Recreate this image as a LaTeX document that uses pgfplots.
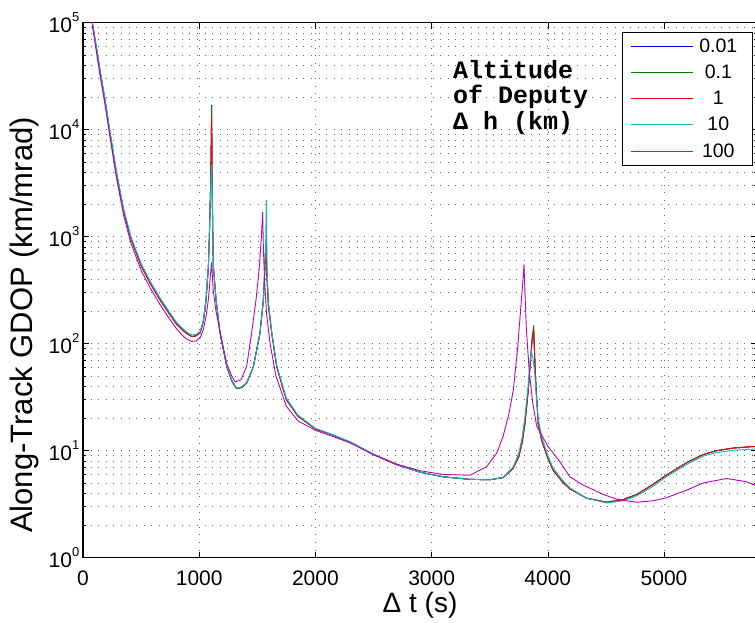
\documentclass[border=0pt]{standalone}
\usepackage{fontspec}
\setmainfont{Liberation Sans}
\setmonofont{Liberation Mono}
\usepackage{pgfplots}
\pgfplotsset{compat=1.18}
\definecolor{mb}{rgb}{0,0,1}
\definecolor{mg}{rgb}{0,0.5,0}
\definecolor{mr}{rgb}{1,0,0}
\definecolor{mc}{rgb}{0,0.75,0.75}
\definecolor{mm}{rgb}{0.75,0,0.75}
\newcommand{\tp}[1]{10\raisebox{10.5pt}{\fontsize{13}{13}\selectfont #1}}
\begin{document}
\begin{tikzpicture}
\begin{axis}[
  at={(0pt,0pt)}, anchor=south west, scale only axis,
  width=674pt, height=535pt,
  xmin=0, xmax=5800, ymode=log, ymin=1, ymax=1e5,
  xtick={0,1000,2000,3000,4000,5000},
  ytick={1,10,100,1000,10000,100000},
  yticklabels={\tp{0},\tp{1},\tp{2},\tp{3},\tp{4},\tp{5}},
  scaled x ticks=false,
  /pgf/number format/1000 sep={},
  /pgf/number format/assume math mode=true,
  tick align=inside, major tick length=6pt, minor tick length=3.5pt,
  tick style={black, line width=0.6pt},
  grid=both,
  major grid style={black!60, line width=0.6pt, dash pattern=on 0.6pt off 7pt},
  minor grid style={black!60, line width=0.6pt, dash pattern=on 0.6pt off 7pt},
  axis line style={black, line width=1.2pt},
  ticklabel style={font=\fontsize{21}{21}\selectfont},
  xticklabel style={anchor=base, yshift=-28pt},
  yticklabel style={inner sep=0pt, xshift=-3.5pt},
  xlabel={Δ t (s)},
  xlabel style={at={(rel axis cs:0.5,0)}, anchor=base, yshift=-54.5pt, inner sep=0pt, font=\fontsize{28}{28}\selectfont},
  ylabel={Along-Track GDOP (km/mrad)},
  ylabel style={at={(rel axis cs:0,0.435)}, anchor=base, yshift=50pt, inner sep=0pt, font=\fontsize{31}{31}\selectfont},
  legend style={at={(rel axis cs:0.9926,0.9826)}, anchor=north east,
    font=\fontsize{19.5}{20}\selectfont, row sep=7pt, inner xsep=9pt, inner ysep=5pt},
  legend cell align=center,
  legend image code/.code={\draw[#1, line width=0.9pt] (0pt,0pt) -- (62pt,0pt);},
  every axis plot/.append style={line width=0.9pt},
]
\addplot[color=mb] table {
80 100000
110 63000
146 35500
190 18600
232 9330
290 3800
350 1740
413 955
460 700
504 525
580 365
663 257
730 200
800 155
860 133
900 123
935 117
970 118
1007 126
1035 160
1059 257
1079 525
1088 1070
1098 3000
1104 8000
1107 17000
1110 4500
1113 2200
1117 1100
1122 525
1145 257
1179 126
1237 61
1280 45
1322 38
1365 39
1409 43
1466 61
1523 126
1552 257
1565 500
1572 800
1576 950
1582 450
1595 230
1624 126
1667 61
1750 30
1850 21
2000 16
2150 14
2300 12
2500 9.2
2700 7.4
2900 6.3
3100 5.7
3330 5.4
3500 5.35
3614 5.6
3700 6.8
3750 8.8
3780 12
3803 18
3830 35
3847 62
3865 110
3878 140
3886 80
3898 40
3917 18
3947 12.5
4000 8.5
4045 6.6
4120 5.2
4190 4.4
4334 3.6
4507 3.3
4650 3.5
4765 3.9
4900 4.8
5008 5.8
5200 7.8
5338 9.2
5450 10
5600 10.6
5800 11
};
\addlegendentry{\makebox[45pt]{0.01}}
\addplot[color=mg] table {
80 100000
110 63000
146 35500
190 18600
232 9330
290 3800
350 1740
413 955
460 700
504 525
580 365
663 257
730 200
800 155
860 133
900 123
935 117
970 118
1007 126
1035 160
1059 257
1079 525
1088 1070
1098 3000
1104 8000
1107 16600
1110 4500
1113 2200
1117 1100
1122 525
1145 257
1179 126
1237 61
1280 45
1322 38
1365 39
1409 43
1466 61
1523 126
1552 257
1565 500
1572 800
1576 940
1582 450
1595 230
1624 126
1667 61
1750 30
1850 21
2000 16
2150 14
2300 12
2500 9.2
2700 7.4
2900 6.3
3100 5.7
3330 5.4
3500 5.35
3614 5.6
3700 6.8
3750 8.8
3780 12
3803 18
3830 35
3847 62
3865 110
3878 148
3886 80
3898 40
3917 18
3947 12.5
4000 8.5
4045 6.6
4120 5.2
4190 4.4
4334 3.6
4507 3.3
4650 3.5
4765 3.9
4900 4.8
5008 5.8
5200 7.8
5338 9.2
5450 10
5600 10.6
5800 11
};
\addlegendentry{\makebox[45pt]{0.1}}
\addplot[color=mr] table {
80 100000
110 63000
146 35500
190 18600
232 9330
290 3800
350 1740
413 955
460 700
504 525
580 365
663 257
730 200
800 155
860 133
900 123
935 117
970 118
1007 126
1035 160
1059 257
1079 525
1088 1070
1098 3000
1104 8000
1107 13000
1110 4500
1113 2200
1117 1100
1122 525
1145 257
1179 126
1237 61
1280 45
1322 38
1365 39
1409 43
1466 61
1523 126
1552 257
1565 500
1572 800
1576 930
1582 450
1595 230
1624 126
1667 61
1750 30
1850 21
2000 16
2150 14
2300 12
2500 9.2
2700 7.4
2900 6.3
3100 5.7
3330 5.4
3500 5.35
3614 5.6
3700 6.8
3750 8.8
3780 12
3803 18
3830 35
3847 62
3865 110
3878 130
3886 80
3898 40
3917 18
3947 12.5
4000 8.5
4045 6.6
4120 5.2
4190 4.4
4334 3.6
4507 3.3
4650 3.5
4765 3.9
4900 4.8
5008 5.8
5200 7.8
5338 9.2
5450 10
5600 10.6
5800 11
};
\addlegendentry{\makebox[45pt]{1}}
\addplot[color=mc] table {
80 100000
110 65500
146 37000
190 19400
232 9750
290 3980
350 1820
413 1000
460 730
504 550
580 380
663 268
730 208
800 161
860 138
900 127
935 121
970 122
1007 130
1035 163
1059 262
1079 530
1088 1050
1098 2500
1104 4000
1107 4700
1110 3500
1113 2000
1117 1050
1122 530
1145 262
1179 128
1237 62
1280 46
1322 38.5
1365 39.5
1409 43.5
1466 61
1523 124
1552 250
1565 520
1572 900
1578 2200
1584 500
1595 250
1624 130
1667 63
1750 31
1850 21.5
2000 16.2
2150 14.1
2300 12.1
2500 9.3
2700 7.45
2900 6.3
3100 5.7
3330 5.4
3500 5.35
3614 5.65
3700 7
3750 9.5
3780 13.5
3803 21
3830 40
3847 70
3858 85
3870 75
3886 55
3898 35
3917 20
3947 13.5
4000 9
4045 6.9
4120 5.4
4190 4.5
4334 3.6
4507 3.25
4650 3.4
4765 3.8
4900 4.6
5008 5.6
5200 7.5
5338 8.9
5450 9.6
5600 10.1
5800 10.4
};
\addlegendentry{\makebox[45pt]{10}}
\addplot[color=mm] table {
80 96000
110 58000
146 32500
190 17000
232 8500
290 3450
350 1580
413 865
460 635
504 475
580 330
663 232
730 180
800 140
860 118
900 109
935 105
970 106
1007 113
1035 135
1059 180
1079 260
1092 380
1100 480
1107 580
1112 450
1120 320
1145 200
1179 130
1237 65
1280 50
1310 44
1360 46
1409 62
1451 126
1489 257
1518 525
1535 1000
1546 1700
1552 800
1562 400
1580 190
1610 100
1660 50
1750 26
1850 19
2000 15.5
2150 13.6
2300 11.8
2500 9.2
2700 7.5
2900 6.5
3100 6.0
3330 5.9
3474 7.1
3560 9.5
3614 13.5
3665 22
3703 37
3740 90
3761 178
3785 380
3795 550
3802 330
3815 140
3840 55
3870 28
3904 17
3947 14
4000 11
4100 8
4190 5.7
4300 4.8
4478 3.9
4600 3.5
4765 3.3
4900 3.4
5008 3.6
5200 4.3
5338 5.0
5539 5.5
5700 5.15
5800 4.7
};
\addlegendentry{\makebox[45pt]{100}}
\node[anchor=base west, inner sep=0pt, font=\ttfamily\bfseries\fontsize{25}{25}\selectfont] at (rel axis cs:0.549,0.8966) {Altitude};
\node[anchor=base west, inner sep=0pt, font=\ttfamily\bfseries\fontsize{25}{25}\selectfont] at (rel axis cs:0.549,0.849) {of Deputy};
\node[anchor=base west, inner sep=0pt, font=\ttfamily\bfseries\fontsize{25}{25}\selectfont] at (rel axis cs:0.549,0.8013) {Δ h (km)};
\end{axis}
\pgfresetboundingbox
\path[use as bounding box] (-83pt,-64.5pt) rectangle (672pt,557.7pt);
\end{tikzpicture}
\end{document}
